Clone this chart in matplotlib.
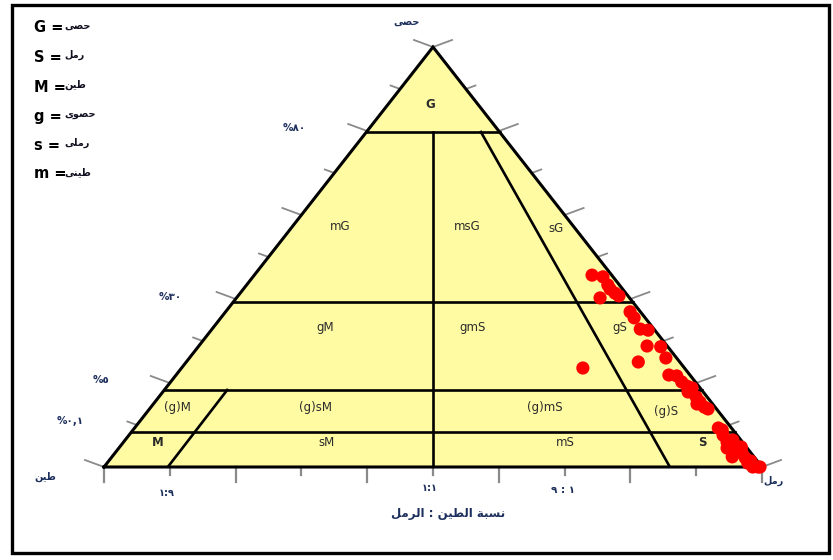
import matplotlib
matplotlib.use("Agg")
import matplotlib.pyplot as plt
import numpy as np

plt.rcParams["font.family"] = ["DejaVu Sans"]

# ---- sample data: gravel content (%) and sand share of the sand+mud matrix ----
gravel_pct = [37.9, 37.4, 35.0, 33.8, 32.6, 31.2, 31.8,
              27.2, 25.5, 22.3, 22.0, 17.5, 17.3, 14.1, 12.96, 11.25,
              9.26, 9.0, 7.3, 6.1, 5.6,
              4.77, 4.19, 3.6, 3.37, 3.0, 2.79, 0.57, 0.335,
              0.091, 0.071, 0.06, 0.049, 0.04, 0.026, 0.011, 0.0, 0.0,
              0.054, 0.077, 0.057, 0.029, 0.017, 0.0]
sand_share = [0.945, 0.972, 0.969, 0.967, 0.972, 0.925, 0.977,
              0.975, 0.974, 0.969, 0.985, 0.957, 0.985, 0.978, 0.916, 0.798,
              0.959, 0.973, 0.974, 0.978, 0.985,
              0.972, 0.980, 0.980, 0.972, 0.981, 0.985, 0.978, 0.982,
              0.977, 0.975, 0.978, 0.982, 0.986, 0.985, 0.983, 0.986, 0.994,
              0.968, 0.987, 0.992, 0.966, 0.990, 0.997]

# Folk gravel classes and their (non-linear) heights in the diagram
gravel_levels = [0, 0.1, 5, 30, 80, 100]
height_levels = [0, 0.0833, 0.1833, 0.3929, 0.7976, 1.0]

# sand:mud ratio boundaries (gravel range, sand share at top/bottom of segment)
ratio_bounds = [
    (5, 0.0, 0.117, 0.097),    # 1:9
    (80, 0.0, 0.5, 0.5),       # 1:1
    (80, 0.0, 0.86, 0.86),     # 9:1
]
class_lines = [80, 30, 5, 0.1]

class_labels = ["G", "mG", "msG", "sG", "gM", "gmS", "gS",
                "(g)M", "(g)sM", "(g)mS", "(g)S", "M", "sM", "mS", "S"]
label_px = [(430, 105), (340, 226), (467, 226), (556, 228), (325, 327),
            (473, 328), (620, 328), (177, 408), (315, 408), (545, 407),
            (666, 412), (158, 442), (327, 443), (565, 443), (702, 443)]
bold_labels = {"G", "M", "S"}

legend_codes = ["G =", "S =", "M =", "g =", "s =", "m ="]
legend_names = ["حصى", "رمل", "طين", "حصوى", "رملى", "طينى"]

# ---- minimal Arabic shaping (matplotlib draws glyphs without joining) ----
FORMS = {
    "ا": ("\uFE8D", "\uFE8E", None, None),
    "ب": ("\uFE8F", "\uFE90", "\uFE91", "\uFE92"),
    "ة": ("\uFE93", "\uFE94", None, None),
    "ح": ("\uFEA1", "\uFEA2", "\uFEA3", "\uFEA4"),
    "ر": ("\uFEAD", "\uFEAE", None, None),
    "س": ("\uFEB1", "\uFEB2", "\uFEB3", "\uFEB4"),
    "ص": ("\uFEB9", "\uFEBA", "\uFEBB", "\uFEBC"),
    "ط": ("\uFEC1", "\uFEC2", "\uFEC3", "\uFEC4"),
    "ل": ("\uFEDD", "\uFEDE", "\uFEDF", "\uFEE0"),
    "م": ("\uFEE1", "\uFEE2", "\uFEE3", "\uFEE4"),
    "ن": ("\uFEE5", "\uFEE6", "\uFEE7", "\uFEE8"),
    "و": ("\uFEED", "\uFEEE", None, None),
    "ى": ("\uFEEF", "\uFEF0", "\uFBE8", "\uFBE9"),
    "ي": ("\uFEF1", "\uFEF2", "\uFEF3", "\uFEF4"),
}


def ar(text):
    out = []
    for i, ch in enumerate(text):
        f = FORMS.get(ch)
        if f is None:
            out.append(ch)
            continue
        prev = text[i - 1] if i > 0 else None
        nxt = text[i + 1] if i < len(text) - 1 else None
        jp = prev in FORMS and FORMS[prev][2] is not None
        jn = nxt in FORMS and f[2] is not None
        if jp and jn:
            out.append(f[3])
        elif jp:
            out.append(f[1])
        elif jn:
            out.append(f[2])
        else:
            out.append(f[0])
    return "".join(reversed(out))


# ---- figure ----
W, H = 833, 560
fig = plt.figure(figsize=(W / 100, H / 100), dpi=100)
fig.patch.set_facecolor("white")
BX0, BX1, BY, TOPY = 104, 762, 467, 47
ax = fig.add_axes([BX0 / W, (H - BY) / H, (BX1 - BX0) / W, (BY - TOPY) / H])
ax.set_xlim(0, 1)
ax.set_ylim(0, 1)
ax.axis("off")


def px(x, y):
    return x / W, 1 - y / H


def to_xy(g, r):
    v = np.interp(g, gravel_levels, height_levels)
    r = np.asarray(r, dtype=float)
    return (1 - v) * r + 0.5 * v, v


# triangle body
ax.fill([0, 1, 0.5], [0, 0, 1], color="#FFFBA2", zorder=1)

lw = 1.9
for g in class_lines:
    x0, y0 = to_xy(g, 0.0)
    x1, y1 = to_xy(g, 1.0)
    ax.plot([x0, x1], [y0, y1], color="black", lw=lw, zorder=3)
for g0, g1, r0, r1 in ratio_bounds:
    x0, y0 = to_xy(g0, r0)
    x1, y1 = to_xy(g1, r1)
    ax.plot([x0, x1], [y0, y1], color="black", lw=lw, zorder=3)
ax.plot([0, 1, 0.5, 0], [0, 0, 1, 0], color="black", lw=2.2, zorder=4,
        solid_joinstyle="miter", clip_on=False)

# edge ticks
tick_c = "#8a8a8a"
sx, sy = 1 / (BX1 - BX0), 1 / (BY - TOPY)
for k in range(11):
    t = k / 10
    long_tick = (k % 2 == 0)
    s = 1.0 if long_tick else 0.5
    # left edge
    xe, ye = 0.5 * t, t
    ax.plot([xe, xe - 19 * s * sx], [ye, ye + 7 * s * sy], color=tick_c, lw=1.3,
            clip_on=False, zorder=2)
    # right edge
    xe, ye = 1 - 0.5 * t, t
    ax.plot([xe, xe + 19 * s * sx], [ye, ye + 7 * s * sy], color=tick_c, lw=1.3,
            clip_on=False, zorder=2)
    # base
    ax.plot([t, t], [0, -(15 if long_tick else 7.5) * sy], color=tick_c, lw=1.6,
            clip_on=False, zorder=2)

# samples
xs, ys = to_xy(np.array(gravel_pct), np.array(sand_share))
ax.scatter(xs, ys, s=90, color="#FF0000", edgecolors="none", zorder=6, clip_on=False)

# class names
for name, (x, y) in zip(class_labels, label_px):
    fig.text(*px(x, y), name, ha="center", va="center", fontsize=8.5,
             color="#2b2b2b", fontweight="bold" if name in bold_labels else "normal")

# legend block
legend_y = [28, 57, 87, 116, 145, 174]
for code, name, y in zip(legend_codes, legend_names, legend_y):
    fig.text(*px(34, y), code, ha="left", va="center", fontsize=10.5,
             fontweight="bold", color="black")
    fig.text(*px(64, y - 2), ar(name), ha="left", va="center", fontsize=7,
             fontweight="bold", color="#111122")

navy = "#1d2f5c"
fig.text(*px(407, 22), ar("حصى"), ha="center", va="center", fontsize=7,
         fontweight="bold", color=navy)
fig.text(*px(294, 128), "%٨٠", ha="center", va="center", fontsize=7.5,
         fontweight="bold", color=navy)
fig.text(*px(170, 297), "%٣٠", ha="center", va="center", fontsize=7.5,
         fontweight="bold", color=navy)
fig.text(*px(101, 380), "%٥", ha="center", va="center", fontsize=7.5,
         fontweight="bold", color=navy)
fig.text(*px(70, 421), "%٠,١", ha="center", va="center", fontsize=7.5,
         fontweight="bold", color=navy)
fig.text(*px(45, 477), ar("طين"), ha="center", va="center", fontsize=7,
         fontweight="bold", color=navy)
fig.text(*px(774, 481), ar("رمل"), ha="center", va="center", fontsize=7,
         fontweight="bold", color=navy)
fig.text(*px(167, 493), "١:٩", ha="center", va="center", fontsize=7,
         fontweight="bold", color=navy)
fig.text(*px(430, 488), "١:١", ha="center", va="center", fontsize=7,
         fontweight="bold", color=navy)
fig.text(*px(563, 490), "٩ : ١", ha="center", va="center", fontsize=7.5,
         fontweight="bold", color=navy)
fig.text(*px(448, 513), ar("نسبة الطين : الرمل"), ha="center", va="center",
         fontsize=8.5, fontweight="bold", color=navy)

# outer frame
frame = plt.Rectangle((11.5 / W, 1 - 553 / H), (829 - 11.5) / W, (553 - 4.5) / H,
                      transform=fig.transFigure, fill=False, lw=2.4,
                      edgecolor="black", zorder=10)
fig.patches.append(frame)

fig.savefig("out.png", dpi=100, facecolor="white")
